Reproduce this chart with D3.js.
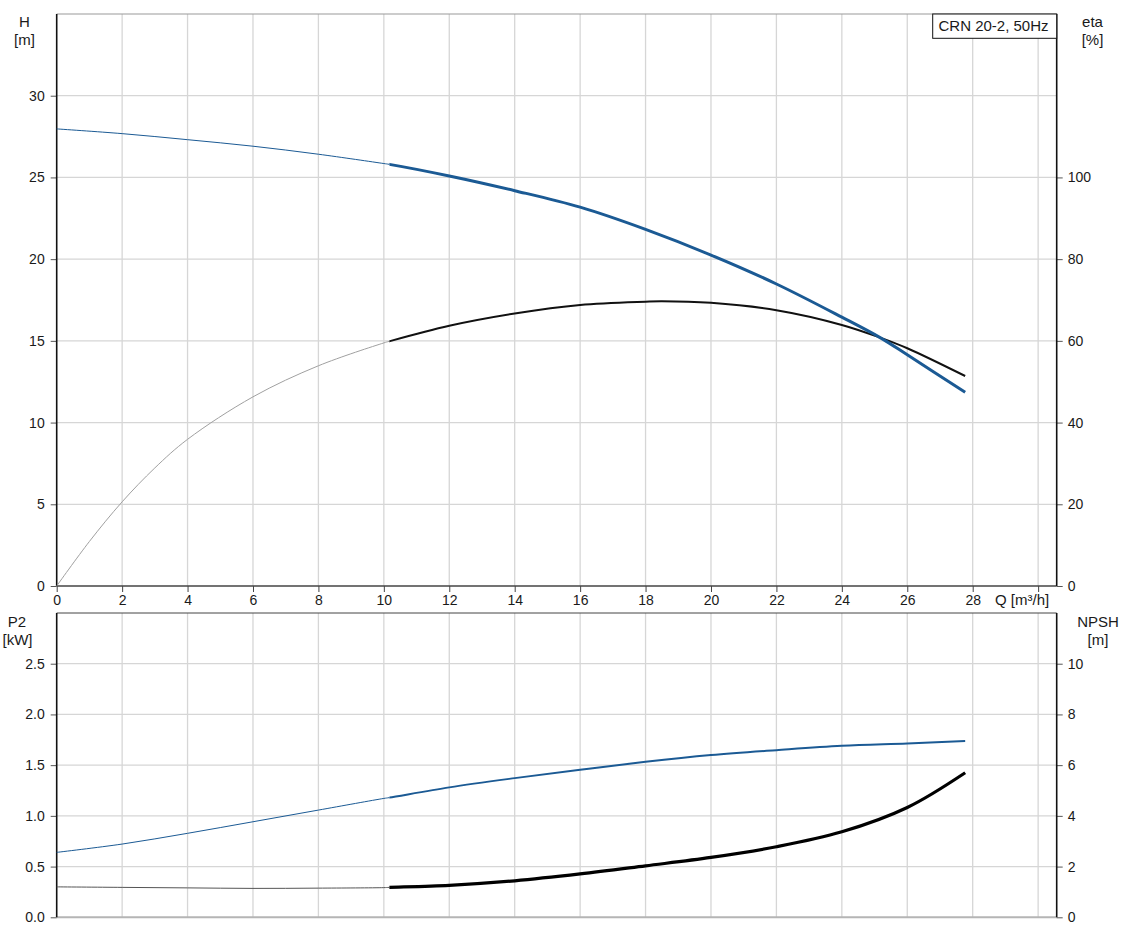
<!DOCTYPE html>
<html><head><meta charset="utf-8">
<script src="https://cdn.jsdelivr.net/npm/d3@7"></script>
<style>
html,body{margin:0;padding:0;background:#fff;}
svg{display:block;font-family:"Liberation Sans",Arial,sans-serif;}
</style></head>
<body><svg id="c" width="1128" height="938"></svg>
<script>
// ---- data ----
const qHead = [0,2,4,6,8,10,10.17,12,14,16,18,20,22,24,25.17,26,27.77];
const headH = [27.97,27.68,27.31,26.91,26.42,25.85,25.80,25.09,24.19,23.18,21.82,20.25,18.48,16.45,15.20,14.15,11.85];
const qEta = [0,1,2,3,4,6,8,10,10.17,12,14,16,18,18.5,20,22,24,25.17,26,27.77];
const etaPct = [0,10.9,20.6,28.9,35.9,46.3,53.9,59.5,59.9,63.7,66.7,68.8,69.6,69.7,69.3,67.5,63.9,60.8,58.2,51.4];
const qLow = [0,2,4,6,8,10,10.17,12,14,16,18,20,22,24,26,27.77];
const powerP2 = [0.640,0.722,0.828,0.942,1.057,1.172,1.18,1.281,1.372,1.455,1.533,1.599,1.648,1.691,1.714,1.737];
const npsh = [1.20,1.18,1.16,1.14,1.15,1.17,1.18,1.26,1.44,1.71,2.03,2.36,2.78,3.37,4.33,5.70];
const qSplit = 10.17;
const qTicks = [0,2,4,6,8,10,12,14,16,18,20,22,24,26,28,30];
const qTickLabels = ["0","2","4","6","8","10","12","14","16","18","20","22","24","26","28",""];
const hTicks = [0,5,10,15,20,25,30];
const etaTicks = [0,20,40,60,80,100];
const p2Ticks = [0,0.5,1.0,1.5,2.0,2.5];
const npshTicks = [0,2,4,6,8,10];
const legendText = "CRN 20-2, 50Hz";

// ---- layout ----
const L = 56.7, R = 1056.7;
const T1 = 14, B1 = 586;
const T2 = 613, B2 = 917.3;
const svg = d3.select("#c");
const x = d3.scaleLinear().domain([0, 28]).range([L, 972.7]);
const yH = d3.scaleLinear().domain([0,35]).range([B1,T1]);
const yEta = d3.scaleLinear().domain([0,140]).range([B1,T1]);
const yP2 = d3.scaleLinear().domain([0,3]).range([B2,T2]);
const yN = d3.scaleLinear().domain([0,12]).range([B2,T2]);
const blue = "#1b5a94";
const txt = "#1a1a1a";
const grid = "#d6d6d6";

const defs = svg.append("defs");
defs.append("clipPath").attr("id","clipThin").append("rect")
  .attr("x",0).attr("y",0).attr("width",x(qSplit)).attr("height",938);
defs.append("clipPath").attr("id","clipThick").append("rect")
  .attr("x",x(qSplit)).attr("y",0).attr("width",1128-x(qSplit)).attr("height",938);

function gridlines(yScale, yTicks, top, bottom){
  const g = svg.append("g");
  g.selectAll("line.v").data(qTicks.filter(d=>d>0)).enter().append("line")
    .attr("x1",d=>x(d)).attr("x2",d=>x(d)).attr("y1",top).attr("y2",bottom)
    .attr("stroke",grid).attr("stroke-width",1.3);
  g.selectAll("line.h").data(yTicks.filter(d=>d>0)).enter().append("line")
    .attr("x1",L).attr("x2",R).attr("y1",d=>yScale(d)).attr("y2",d=>yScale(d))
    .attr("stroke",grid).attr("stroke-width",1.3);
}
gridlines(yH, hTicks, T1, B1);
gridlines(yP2, p2Ticks, T2, B2);

// borders
svg.append("line").attr("x1",L).attr("x2",R).attr("y1",T1).attr("y2",T1).attr("stroke","#999").attr("stroke-width",1);
svg.append("line").attr("x1",L).attr("x2",R).attr("y1",T2).attr("y2",T2).attr("stroke","#444").attr("stroke-width",1);
svg.append("line").attr("x1",L).attr("x2",R).attr("y1",B2).attr("y2",B2).attr("stroke","#b5b5b5").attr("stroke-width",2);

// axes
function styleAxis(g, color){
  g.select(".domain").remove();
  g.selectAll(".tick line").attr("stroke",color||"#555");
  g.selectAll(".tick text").attr("fill",txt).style("font-size","14px").style("font-family",'"Liberation Sans",Arial,sans-serif');
}
const xAx = svg.append("g").attr("transform",`translate(0,${B1})`)
  .call(d3.axisBottom(x).tickValues(qTicks).tickFormat((d,i)=>qTickLabels[i]).tickSize(6).tickPadding(3));
styleAxis(xAx,"#444");
svg.append("line").attr("x1",L).attr("x2",R).attr("y1",B1).attr("y2",B1).attr("stroke","#444").attr("stroke-width",1.5);

const yAxL = svg.append("g").attr("transform",`translate(${L},0)`)
  .call(d3.axisLeft(yH).tickValues(hTicks).tickFormat(d3.format("d")).tickSize(6).tickPadding(6));
styleAxis(yAxL);
const yAxR = svg.append("g").attr("transform",`translate(${R},0)`)
  .call(d3.axisRight(yEta).tickValues(etaTicks).tickFormat(d3.format("d")).tickSize(6).tickPadding(5));
styleAxis(yAxR);
const yAxL2 = svg.append("g").attr("transform",`translate(${L},0)`)
  .call(d3.axisLeft(yP2).tickValues(p2Ticks).tickFormat(d3.format(".1f")).tickSize(6).tickPadding(6));
styleAxis(yAxL2);
const yAxR2 = svg.append("g").attr("transform",`translate(${R},0)`)
  .call(d3.axisRight(yN).tickValues(npshTicks).tickFormat(d3.format("d")).tickSize(6).tickPadding(5));
styleAxis(yAxR2);

// vertical axis lines
[[L,T1,B1],[R,T1,B1],[L,T2,B2],[R,T2,B2]].forEach(a=>{
  svg.append("line").attr("x1",a[0]).attr("x2",a[0]).attr("y1",a[1]).attr("y2",a[2]).attr("stroke","#111").attr("stroke-width",1.6);
});

// axis titles
function title(t, cx, cy){
  svg.append("text").attr("x",cx).attr("y",cy).attr("text-anchor","middle").attr("fill",txt)
    .style("font-size","15px").text(t);
}
title("H",24.5,27); title("[m]",24.5,45);
title("eta",1092.5,27); title("[%]",1092.5,45);
title("P2",17,627); title("[kW]",17.5,645);
title("NPSH",1098,627); title("[m]",1098,645);
svg.append("text").attr("x",995).attr("y",605).attr("fill",txt).style("font-size","15px").text("Q [m³/h]");

// legend
svg.append("rect").attr("x",932.7).attr("y",T1).attr("width",R-932.7).attr("height",24.3)
  .attr("fill","#fff").attr("stroke","#111").attr("stroke-width",1);
svg.append("text").attr("x",938.5).attr("y",31).attr("fill",txt).style("font-size","15px").text(legendText);

// curves: one smooth path per series, thin/thick parts via clipping
function drawCurve(qs, vs, yScale, color, thinColor, thinW, thickW){
  const pts = qs.map((q,i)=>[q,vs[i]]);
  const line = d3.line().x(d=>x(d[0])).y(d=>yScale(d[1])).curve(d3.curveCatmullRom.alpha(0.5));
  const d = line(pts);
  svg.append("path").attr("d",d).attr("fill","none").attr("clip-path","url(#clipThin)")
    .attr("stroke",thinColor).attr("stroke-width",thinW);
  svg.append("path").attr("d",d).attr("fill","none").attr("clip-path","url(#clipThick)")
    .attr("stroke",color).attr("stroke-width",thickW).attr("stroke-linecap","butt");
}
drawCurve(qEta, etaPct, yEta, "#111", "#a0a0a0", 1, 2);
drawCurve(qHead, headH, yH, blue, blue, 1, 3);
drawCurve(qLow, powerP2, yP2, blue, blue, 1, 2);
drawCurve(qLow, npsh, yN, "#000", "#555", 1, 3.2);
</script>
</body></html>
